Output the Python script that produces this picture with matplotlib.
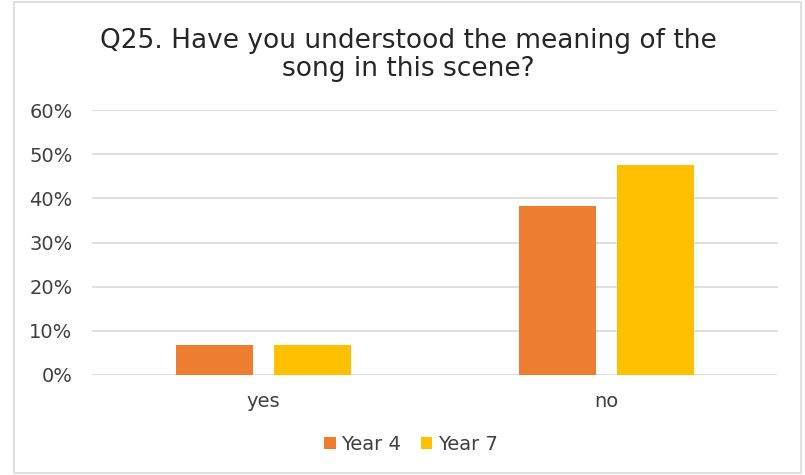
import numpy as np
import matplotlib.pyplot as plt
from matplotlib.patches import Rectangle

categories = ['yes', 'no']
year4 = [6.8, 38.2]
year7 = [6.8, 47.6]
series_names = ['Year 4', 'Year 7']
yticks = [0, 10, 20, 30, 40, 50, 60]

orange = '#ED7D31'
gold = '#FFC000'

fig = plt.figure(figsize=(8.05, 4.75), dpi=100)
ax = fig.add_axes([92 / 805, 1 - 375 / 475, 686 / 805, 265 / 475])

# chart area border
fig.patches.append(Rectangle((14 / 805, 2 / 475), 787 / 805, 471 / 475,
                             transform=fig.transFigure, fill=False,
                             edgecolor='#D9D9D9', linewidth=1.2))

x = np.arange(len(categories))
w = 0.2236
off = 0.142
ax.bar(x - off, year4, w, color=orange, label=series_names[0], zorder=3)
ax.bar(x + off, year7, w, color=gold, label=series_names[1], zorder=3)

ax.set_xlim(-0.5, 1.5)
ax.set_ylim(0, 60)
ax.set_yticks(yticks)
ax.set_yticklabels([f'{v}%' for v in yticks])
ax.set_xticks(x)
ax.set_xticklabels(categories)
ax.grid(axis='y', color='#D9D9D9', linewidth=1.2, zorder=0)
for s in ax.spines.values():
    s.set_visible(False)
ax.tick_params(axis='both', length=0, labelsize=14, colors='#404040')
ax.tick_params(axis='x', pad=12)
ax.tick_params(axis='y', pad=14)

fig.text(408 / 805, 1 - 55 / 475, 'Q25. Have you understood the meaning of the\nsong in this scene?',
         ha='center', va='center', fontsize=19, color='#262626',
         linespacing=1.1)

fig.legend(loc='center', bbox_to_anchor=(411 / 805, 1 - 444 / 475), ncol=2,
           frameon=False, fontsize=14, handlelength=0.57, handleheight=0.57,
           handletextpad=0.3, columnspacing=1.0, labelcolor='#404040')

fig.savefig('out.png', dpi=100)
